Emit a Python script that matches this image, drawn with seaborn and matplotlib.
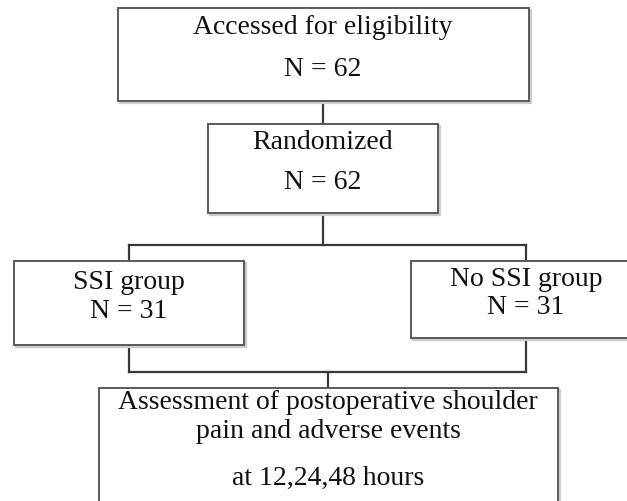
import matplotlib
matplotlib.use("Agg")
import matplotlib.pyplot as plt
import seaborn as sns
from matplotlib.patches import Rectangle

sns.set_theme(style="white")
plt.rcParams['font.family'] = ['Liberation Serif', 'DejaVu Serif']

# ---- content ----
box_lines = [
    ["Accessed for eligibility", "N = 62"],
    ["Randomized", "N = 62"],
    ["SSI group", "N = 31"],
    ["No SSI group", "N = 31"],
    ["Assessment of postoperative shoulder", "pain and adverse events", "at 12,24,48 hours"],
]

# ---- layout (pixels, y downward) ----
boxes = [  # x0, y0, x1, y1
    (118, 9, 529, 102),
    (208, 125, 438, 214),
    (14, 262, 244, 346),
    (411, 262, 640, 339),
    (99, 389, 558, 520),
]
text_x = [323, 323, 129, 526, 328]
text_y = [[28, 70], [143, 183], [283, 312], [280, 308], [403, 432, 478]]

fig = plt.figure(figsize=(6.27, 5.02), dpi=100)
ax = fig.add_axes([0, 0, 1, 1])
ax.set_xlim(0, 627)
ax.set_ylim(502, 0)
ax.axis("off")

edge = "#5a5a5a"
line = "#383838"

for (x0, y0, x1, y1) in boxes:
    ax.add_patch(Rectangle((x0 + 1.5, y0 + 1.5), x1 - x0, y1 - y0, facecolor="none",
                           edgecolor="#cccccc", lw=1.6, zorder=1))
    ax.add_patch(Rectangle((x0, y0), x1 - x0, y1 - y0, facecolor="white",
                           edgecolor=edge, lw=1.4, zorder=2))

for i, lines in enumerate(box_lines):
    for txt, y in zip(lines, text_y[i]):
        ax.text(text_x[i], y, txt, ha="center", va="center", fontsize=20,
                color="#111111", zorder=3)

segs = [
    ([323, 323], [102, 125]),
    ([323, 323], [214, 246]),
    ([129, 526], [246, 246]),
    ([129, 129], [246, 262]),
    ([526, 526], [246, 262]),
    ([129, 129], [346, 373]),
    ([526, 526], [339, 373]),
    ([129, 526], [373, 373]),
    ([328, 328], [373, 389]),
]
for xs, ys in segs:
    ax.plot(xs, ys, color=line, lw=1.6, zorder=0, solid_capstyle="projecting")

fig.savefig("out.png", dpi=100)
